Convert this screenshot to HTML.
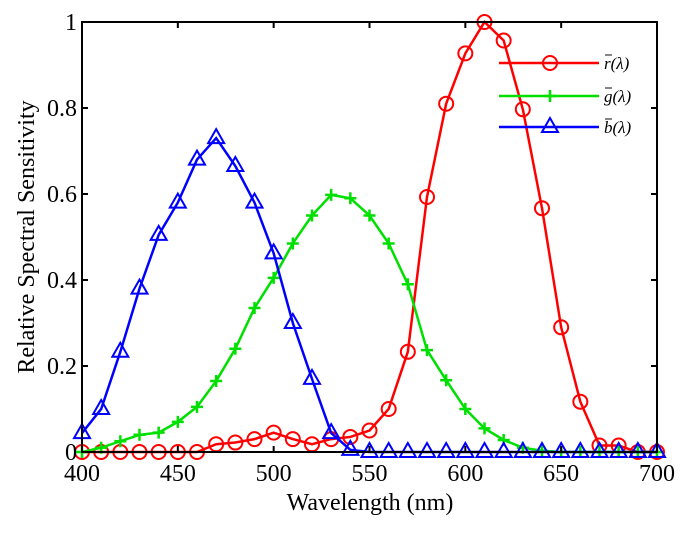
<!DOCTYPE html>
<html><head><meta charset="utf-8"><style>
body{margin:0;background:#fff}
svg{display:block;font-family:"Liberation Serif",serif}
</style></head><body>
<svg id="chart" width="688" height="540">
<rect x="0" y="0" width="688" height="540" fill="#fff"/>
<g id="plot"></g>
<g id="axes"></g>
<text x="370" y="510" font-size="24" text-anchor="middle">Wavelength (nm)</text>
<text transform="translate(34,237) rotate(-90)" font-size="24" text-anchor="middle">Relative Spectral Sensitivity</text>
<g id="legend"></g>
</svg>
<script>
const wavelengths=[400,410,420,430,440,450,460,470,480,490,500,510,520,530,540,550,560,570,580,590,600,610,620,630,640,650,660,670,680,690,700];
const redValues=[0,0,0,0,0,0,0,0.018,0.022,0.03,0.045,0.03,0.018,0.03,0.035,0.05,0.10,0.233,0.593,0.81,0.927,1.0,0.957,0.797,0.567,0.29,0.117,0.015,0.015,0,0];
const greenValues=[0,0.01,0.025,0.04,0.045,0.07,0.105,0.165,0.24,0.335,0.405,0.485,0.55,0.598,0.59,0.55,0.485,0.39,0.237,0.167,0.10,0.055,0.028,0.01,0.003,0,0,0,0,0,0];
const blueValues=[0.044,0.10,0.233,0.38,0.505,0.58,0.68,0.73,0.665,0.58,0.462,0.30,0.17,0.044,0.005,0,0,0,0,0,0,0,0,0,0,0,0,0,0,0,0];
const xTicks=[400,450,500,550,600,650,700];
const yTicks=[0,0.2,0.4,0.6,0.8,1];
const yTickLabels=["0","0.2","0.4","0.6","0.8","1"];
const L=82,R=657,T=22,B=452;
const sx=v=>L+(v-400)/300*(R-L);
const sy=v=>B-v*(B-T);
const NS="http://www.w3.org/2000/svg";
function mk(tag,attrs,parent){const e=document.createElementNS(NS,tag);for(const k in attrs)e.setAttribute(k,attrs[k]);parent.appendChild(e);return e;}
const plot=document.getElementById('plot'),axes=document.getElementById('axes'),leg=document.getElementById('legend');
function marker(type,x,y,color,parent){
  if(type==='o')return mk('circle',{cx:x,cy:y,r:7,fill:'none',stroke:color,'stroke-width':2},parent);
  if(type==='+')return mk('path',{d:`M${x-6},${y}H${x+6}M${x},${y-6}V${y+6}`,stroke:color,'stroke-width':2.5,fill:'none'},parent);
  return mk('path',{d:`M${x},${y-9}L${x+8},${y+5}L${x-8},${y+5}Z`,stroke:color,'stroke-width':2,fill:'none'},parent);
}
const series=[[redValues,'#ff0000','o','red'],[greenValues,'#00e000','+','green'],[blueValues,'#0000ff','^','blue']];
series.forEach(([vals,color,m,name])=>{
  const g=mk('g',{},plot);
  
  
  const line=mk('polyline',{points:wavelengths.map((w,i)=>sx(w)+','+sy(vals[i])).join(' '),fill:'none',stroke:color,'stroke-width':2.5},g);
  
  
  wavelengths.forEach((w,i)=>{
    const p=marker(m,sx(w),sy(vals[i]),color,g);
    
    
  });
});
const box=mk('rect',{x:L,y:T,width:R-L,height:B-T,fill:'none',stroke:'#000','stroke-width':2},axes);


xTicks.forEach(t=>{
  const x=sx(t);
  mk('path',{d:`M${x},${B}V${B-6}M${x},${T}V${T+6}`,stroke:'#000','stroke-width':2},axes);
  const tx=mk('text',{x:x,y:B+29,'font-size':24,'text-anchor':'middle'},axes);
  tx.textContent=t;
  
  
});
yTicks.forEach((t,i)=>{
  const y=sy(t);
  mk('path',{d:`M${L},${y}H${L+6}M${R},${y}H${R-6}`,stroke:'#000','stroke-width':2},axes);
  const tx=mk('text',{x:L-5,y:y+8,'font-size':24,'text-anchor':'end'},axes);
  tx.textContent=yTickLabels[i];
  
  
});
const legItems=[['r','#ff0000','o',63],['g','#00e000','+',96],['b','#0000ff','^',127]];
legItems.forEach(([ch,color,m,y])=>{
  const g=mk('g',{},leg);
  
  
  mk('line',{x1:499,y1:y,x2:599,y2:y,stroke:color,'stroke-width':2.5},g);
  marker(m,550,y,color,g);
  const t=mk('text',{x:604,y:y+6,'font-size':17,'font-style':'italic'},g);
  t.textContent=ch+'(λ)';
  mk('line',{x1:605,y1:y-8,x2:612,y2:y-8,stroke:'#333','stroke-width':1.2},g);
});
</script>
</body></html>
